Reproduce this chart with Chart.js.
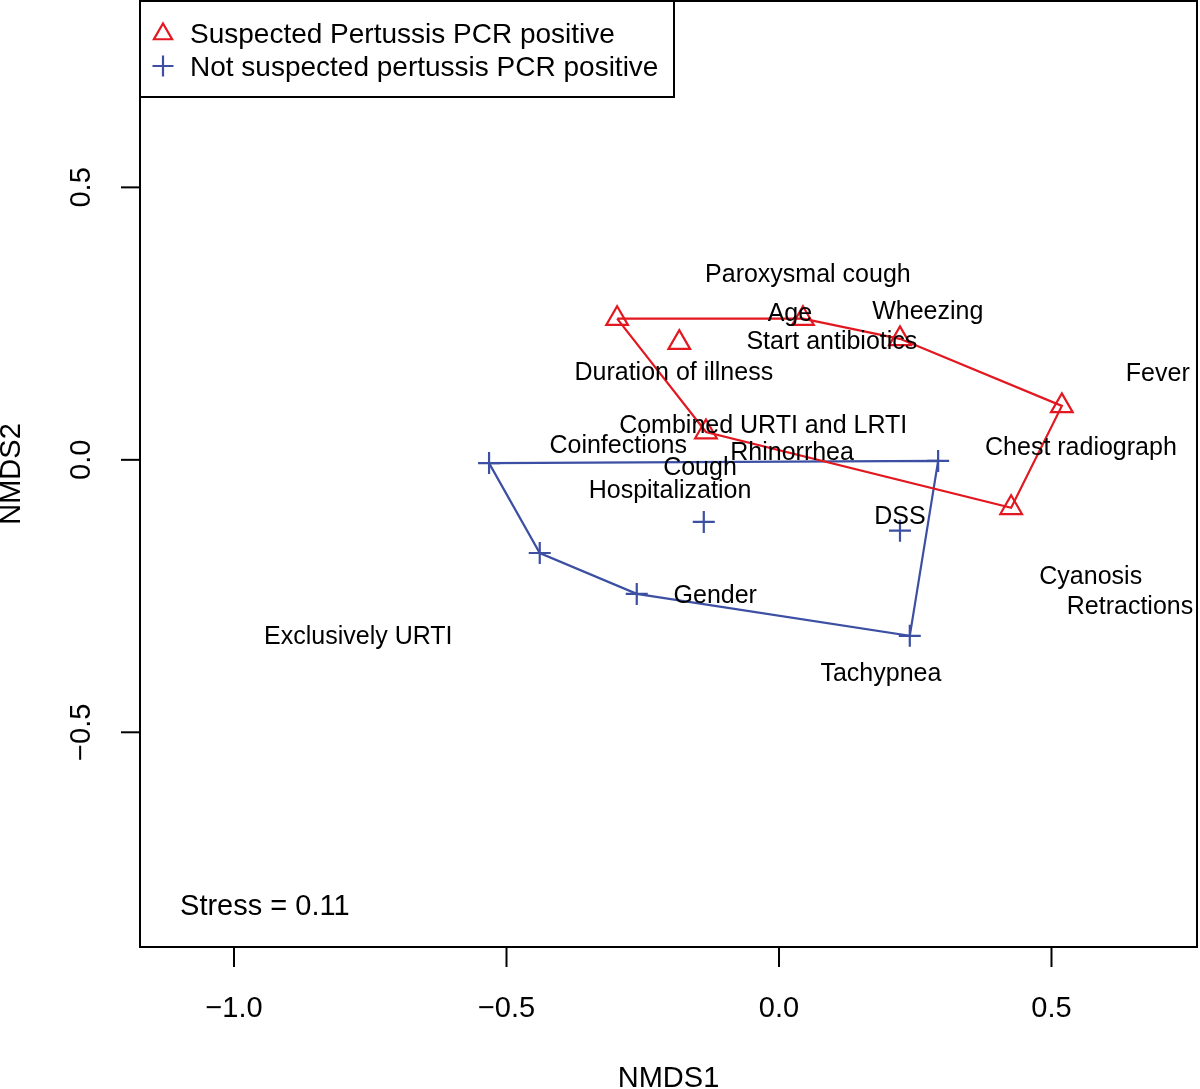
<!DOCTYPE html>
<html>
<head>
<meta charset="utf-8">
<script src="https://cdn.jsdelivr.net/npm/chart.js@4.4.1/dist/chart.umd.min.js"></script>
<style>
  html, body { margin: 0; padding: 0; background: #fff; }
  #wrap { width: 1200px; height: 1089px; }
</style>
</head>
<body>
<div id="wrap"><canvas id="nmds" width="1200" height="1089"></canvas></div>
<script>
// site scores, suspected pertussis group (red triangles)
const suspectedX = [-0.297, -0.183, 0.044, 0.222, 0.519, 0.426, -0.134]
const suspectedY = [0.259, 0.215, 0.259, 0.222, 0.099, -0.088, 0.051]
const suspectedHull = [0, 2, 3, 4, 5, 6, 0]

// site scores, not suspected group (blue crosses)
const notSuspectedX = [-0.532, -0.439, -0.261, 0.240, 0.292, -0.138, 0.222]
const notSuspectedY = [-0.006, -0.171, -0.246, -0.323, -0.002, -0.114, -0.130]
const notSuspectedHull = [0, 1, 2, 3, 4, 0]

// variable scores (text labels)
const varNames = [
  "Paroxysmal cough", "Age", "Wheezing", "Start antibiotics", "Duration of illness",
  "Fever", "Combined URTI and LRTI", "Coinfections", "Rhinorrhea", "Chest radiograph",
  "Cough", "Hospitalization", "DSS", "Cyanosis", "Retractions", "Gender",
  "Exclusively URTI", "Tachypnea",
]
const varX = [0.053, 0.020, 0.273, 0.097, -0.193, 0.695, -0.029, -0.295, 0.024, 0.554,
  -0.145, -0.200, 0.222, 0.572, 0.644, -0.117, -0.772, 0.187]
const varY = [0.343, 0.272, 0.275, 0.220, 0.163, 0.161, 0.066, 0.029, 0.017, 0.026,
  -0.011, -0.053, -0.101, -0.211, -0.266, -0.246, -0.321, -0.389]

const xTicks = [-1.0, -0.5, 0.0, 0.5]
const yTicks = [-0.5, 0.0, 0.5]
const legendLabels = ["Suspected Pertussis PCR positive", "Not suspected pertussis PCR positive"]
const stressText = "Stress = 0.11"
const stressPos = [-1.099, -0.817]

const FONT = "'Liberation Sans', Arial, Helvetica, sans-serif"
const RED = "#e2171f"
const BLUE = "#3c4fa3"

const pts = (xs, ys) => xs.map((v, i) => ({ x: v, y: ys[i] }))
const hull = (xs, ys, idx) => idx.map((i) => ({ x: xs[i], y: ys[i] }))
const fmt = (v) => (v < 0 ? "\u2212" : "") + Math.abs(v).toFixed(1)

const drawTriangle = (ctx, cx, cy, r) => {
  ctx.beginPath()
  for (let k = 0; k < 3; k++) {
    const a = k * 2 * Math.PI / 3
    const px = cx + Math.sin(a) * r
    const py = cy - Math.cos(a) * r
    if (k === 0) ctx.moveTo(px, py)
    else ctx.lineTo(px, py)
  }
  ctx.closePath()
  ctx.stroke()
}

const drawCross = (ctx, cx, cy, r) => {
  ctx.beginPath()
  ctx.moveTo(cx - r, cy)
  ctx.lineTo(cx + r, cy)
  ctx.moveTo(cx, cy - r)
  ctx.lineTo(cx, cy + r)
  ctx.stroke()
}

// R style frame, axes, text labels and legend
const rFrame = {
  id: "rFrame",
  afterDatasetsDraw(chart) {
    const { ctx, chartArea: a, scales: { x, y } } = chart
    ctx.save()
    ctx.fillStyle = "#000"

    // variable labels
    ctx.font = `25px ${FONT}`
    ctx.textAlign = "center"
    ctx.textBaseline = "alphabetic"
    varNames.forEach((name, i) => {
      ctx.fillText(name, x.getPixelForValue(varX[i]), y.getPixelForValue(varY[i]) + 9)
    })

    // stress
    ctx.font = `29px ${FONT}`
    ctx.textAlign = "left"
    ctx.fillText(stressText, x.getPixelForValue(stressPos[0]), y.getPixelForValue(stressPos[1]) + 10)

    // box
    ctx.strokeStyle = "#000"
    ctx.lineWidth = 2
    ctx.strokeRect(a.left, a.top, a.right - a.left, a.bottom - a.top)

    // x axis
    ctx.textAlign = "center"
    xTicks.forEach((v) => {
      const px = x.getPixelForValue(v)
      ctx.beginPath()
      ctx.moveTo(px, a.bottom)
      ctx.lineTo(px, a.bottom + 20)
      ctx.stroke()
      ctx.fillText(fmt(v), px, a.bottom + 70)
    })
    ctx.fillText("NMDS1", (a.left + a.right) / 2, a.bottom + 140)

    // y axis
    yTicks.forEach((v) => {
      const py = y.getPixelForValue(v)
      ctx.beginPath()
      ctx.moveTo(a.left - 19, py)
      ctx.lineTo(a.left, py)
      ctx.stroke()
      ctx.save()
      ctx.translate(a.left - 60, py)
      ctx.rotate(-Math.PI / 2)
      ctx.fillText(fmt(v), 0, 10)
      ctx.restore()
    })
    ctx.save()
    ctx.translate(a.left - 130, (a.top + a.bottom) / 2)
    ctx.rotate(-Math.PI / 2)
    ctx.fillText("NMDS2", 0, 10)
    ctx.restore()

    // legend
    ctx.fillStyle = "#fff"
    ctx.fillRect(a.left, a.top, 534, 96)
    ctx.strokeRect(a.left, a.top, 534, 96)
    ctx.fillStyle = "#000"
    ctx.font = `28px ${FONT}`
    ctx.textAlign = "left"
    ctx.fillText(legendLabels[0], a.left + 50, 43)
    ctx.fillText(legendLabels[1], a.left + 50, 76)
    ctx.lineWidth = 2.2
    ctx.strokeStyle = RED
    drawTriangle(ctx, a.left + 23, 34, 10.5)
    ctx.strokeStyle = BLUE
    drawCross(ctx, a.left + 23, 66, 10.5)

    ctx.restore()
  },
}

new Chart(document.getElementById("nmds"), {
  type: "scatter",
  data: {
    datasets: [
      {
        label: legendLabels[0],
        data: pts(suspectedX, suspectedY),
        pointStyle: "triangle",
        pointRadius: 12.5,
        borderColor: RED,
        backgroundColor: "rgba(0,0,0,0)",
        borderWidth: 2.2,
        order: 1,
      },
      {
        label: legendLabels[1],
        data: pts(notSuspectedX, notSuspectedY),
        pointStyle: "cross",
        pointRadius: 11,
        borderColor: BLUE,
        backgroundColor: BLUE,
        borderWidth: 2.2,
        order: 2,
      },
      {
        label: "suspected hull",
        data: hull(suspectedX, suspectedY, suspectedHull),
        showLine: true,
        pointRadius: 0,
        borderColor: RED,
        borderWidth: 2.2,
        fill: false,
        order: 3,
      },
      {
        label: "not suspected hull",
        data: hull(notSuspectedX, notSuspectedY, notSuspectedHull),
        showLine: true,
        pointRadius: 0,
        borderColor: BLUE,
        borderWidth: 2.2,
        fill: false,
        order: 4,
      },
    ],
  },
  options: {
    responsive: false,
    animation: false,
    layout: { autoPadding: false, padding: { left: 140, right: 3, top: 1, bottom: 142 } },
    plugins: {
      legend: { display: false },
      tooltip: { enabled: false },
    },
    scales: {
      x: { type: "linear", min: -1.1725, max: 0.767, display: false },
      y: { type: "linear", min: -0.894, max: 0.842, display: false },
    },
  },
  plugins: [rFrame],
})
</script>
</body>
</html>
